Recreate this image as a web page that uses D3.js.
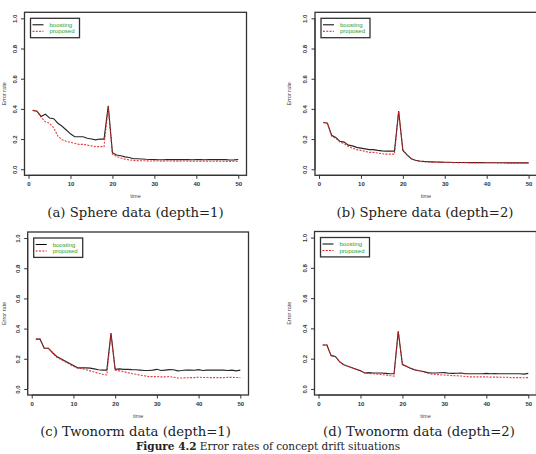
<!DOCTYPE html>
<html><head><meta charset="utf-8">
<script src="https://cdn.jsdelivr.net/npm/d3@7"></script>
<style>body{margin:0;background:#fff}svg{display:block}</style>
</head><body>
<script>
// ---------- data ----------
const time = d3.range(1, 51);
const yTicks = [0.0, 0.2, 0.4, 0.6, 0.8, 1.0];
const xTicks = [0, 10, 20, 30, 40, 50];
const seriesNames = ["boosting", "proposed"];
const captions = ["(a) Sphere data (depth=1)", "(b) Sphere data (depth=2)", "(c) Twonorm data (depth=1)", "(d) Twonorm data (depth=2)"];
const figureLabel = "Figure 4.2";
const figureText = " Error rates of concept drift situations";

const sphere1Boosting = [0.39,0.385,0.35,0.365,0.34,0.335,0.305,0.285,0.26,0.235,0.215,0.215,0.215,0.205,0.20,0.195,0.20,0.20,0.42,0.11,0.095,0.09,0.082,0.078,0.07,0.07,0.068,0.066,0.065,0.064,0.063,0.063,0.064,0.064,0.065,0.064,0.064,0.064,0.063,0.064,0.064,0.063,0.064,0.064,0.064,0.065,0.064,0.061,0.062,0.065];
const sphere1Proposed = [0.39,0.385,0.345,0.315,0.305,0.275,0.22,0.195,0.185,0.178,0.172,0.165,0.165,0.16,0.155,0.15,0.15,0.15,0.41,0.10,0.085,0.075,0.067,0.062,0.058,0.057,0.056,0.056,0.055,0.055,0.055,0.054,0.055,0.055,0.054,0.054,0.055,0.054,0.054,0.053,0.054,0.054,0.053,0.053,0.054,0.053,0.052,0.052,0.053,0.052];
const sphere2Boosting = [0.31,0.305,0.225,0.21,0.185,0.18,0.16,0.155,0.145,0.14,0.135,0.13,0.13,0.125,0.122,0.12,0.12,0.12,0.385,0.125,0.095,0.07,0.06,0.055,0.052,0.05,0.049,0.048,0.047,0.046,0.046,0.045,0.045,0.045,0.045,0.044,0.044,0.044,0.044,0.043,0.043,0.043,0.043,0.043,0.042,0.042,0.042,0.042,0.042,0.042];
const sphere2Proposed = [0.31,0.305,0.22,0.205,0.18,0.17,0.15,0.14,0.13,0.125,0.118,0.112,0.112,0.108,0.103,0.10,0.10,0.10,0.38,0.13,0.095,0.07,0.058,0.052,0.05,0.048,0.047,0.046,0.046,0.045,0.045,0.045,0.044,0.044,0.044,0.044,0.043,0.043,0.043,0.043,0.043,0.043,0.042,0.042,0.042,0.042,0.042,0.042,0.042,0.042];
const twonorm1Boosting = [0.33,0.33,0.27,0.27,0.24,0.215,0.20,0.185,0.17,0.155,0.14,0.14,0.14,0.138,0.133,0.127,0.125,0.125,0.37,0.13,0.133,0.13,0.13,0.128,0.127,0.125,0.122,0.122,0.125,0.13,0.122,0.125,0.128,0.127,0.12,0.122,0.126,0.125,0.124,0.128,0.122,0.125,0.125,0.125,0.125,0.125,0.122,0.125,0.12,0.125];
const twonorm1Proposed = [0.33,0.33,0.27,0.27,0.24,0.21,0.195,0.18,0.165,0.15,0.138,0.135,0.128,0.12,0.112,0.105,0.097,0.093,0.365,0.125,0.12,0.115,0.108,0.102,0.097,0.092,0.087,0.082,0.082,0.082,0.08,0.08,0.082,0.078,0.073,0.073,0.074,0.075,0.075,0.078,0.076,0.076,0.075,0.075,0.075,0.075,0.077,0.077,0.076,0.075];
const twonorm2Boosting = [0.29,0.29,0.22,0.215,0.18,0.16,0.15,0.14,0.13,0.12,0.105,0.108,0.105,0.105,0.105,0.103,0.10,0.10,0.38,0.16,0.148,0.135,0.125,0.12,0.115,0.108,0.105,0.105,0.107,0.108,0.104,0.103,0.104,0.105,0.10,0.10,0.10,0.10,0.10,0.103,0.10,0.102,0.10,0.10,0.10,0.10,0.10,0.10,0.098,0.103];
const twonorm2Proposed = [0.29,0.29,0.22,0.215,0.18,0.16,0.15,0.14,0.13,0.12,0.105,0.103,0.10,0.098,0.095,0.092,0.088,0.085,0.38,0.165,0.15,0.138,0.128,0.12,0.113,0.105,0.098,0.095,0.093,0.092,0.09,0.088,0.087,0.085,0.082,0.08,0.08,0.08,0.08,0.08,0.078,0.078,0.078,0.077,0.077,0.075,0.075,0.075,0.074,0.075];

const panelSeries = [
  [sphere1Boosting, sphere1Proposed],
  [sphere2Boosting, sphere2Proposed],
  [twonorm1Boosting, twonorm1Proposed],
  [twonorm2Boosting, twonorm2Proposed]
];

// ---------- layout ----------
const W = 536, H = 454;
const boxes = [
  {l: 24.5, r: 246.5, t: 12.3, b: 175.3, cx: 135.5, cy: 217},
  {l: 315,  r: 536.8, t: 12.3, b: 175.3, cx: 425,   cy: 217},
  {l: 27.7, r: 248.5, t: 232,  b: 395,   cx: 135.5, cy: 436},
  {l: 314.5,r: 536.5, t: 231.5,b: 395,   cx: 419,   cy: 436}
];
const colors = ["#000000", "#e41a1c"];
const dashes = [null, "2,1.3"];
const sans = "'Liberation Sans', Arial, sans-serif";
const serif = "'DejaVu Serif', 'Liberation Serif', serif";

const svg = d3.select("body").append("svg").attr("width", W).attr("height", H);
svg.append("rect").attr("width", W).attr("height", H).attr("fill", "#fff");

boxes.forEach((bx, i) => {
  const g = svg.append("g");
  const xr = 49 * 0.04;
  const x = d3.scaleLinear().domain([1 - xr, 50 + xr]).range([bx.l, bx.r]);
  const y = d3.scaleLinear().domain([-0.04, 1.04]).range([bx.b, bx.t]);

  // lines
  const line = d3.line().x((d, k) => x(time[k])).y(d => y(d));
  panelSeries[i].forEach((vals, s) => {
    g.append("path").datum(vals).attr("d", line)
      .attr("fill", "none").attr("stroke", colors[s]).attr("stroke-width", 1.1)
      .attr("stroke-dasharray", dashes[s]).attr("stroke-opacity", 0.85);
  });

  // box
  g.append("rect").attr("x", bx.l).attr("y", bx.t).attr("width", bx.r - bx.l).attr("height", bx.b - bx.t)
    .attr("fill", "none").attr("stroke", "#333").attr("stroke-width", 1.3);

  // axes
  const xa = g.append("g").attr("transform", `translate(0,${bx.b})`)
    .call(d3.axisBottom(x).tickValues(xTicks).tickSize(3.5).tickPadding(3).tickFormat(d3.format("d")));
  xa.select(".domain").attr("d", `M${x(0)},0H${x(50)}`).attr("stroke", "#333");
  xa.selectAll("line").attr("stroke", "#333");
  xa.selectAll("text").attr("font-family", sans).attr("font-size", 6).attr("font-weight", "bold").attr("fill", "#333");

  const ya = g.append("g").attr("transform", `translate(${bx.l},0)`)
    .call(d3.axisLeft(y).tickValues(yTicks).tickSize(3.5).tickPadding(3).tickFormat(d3.format(".1f")));
  ya.select(".domain").attr("d", `M0,${y(0)}V${y(1)}`).attr("stroke", "#333");
  ya.selectAll("line").attr("stroke", "#333");
  ya.selectAll("text").attr("font-family", sans).attr("font-size", 6).attr("font-weight", "bold").attr("fill", "#333")
    .attr("text-anchor", "middle").attr("dy", null).attr("x", null)
    .attr("transform", "translate(-10,0) rotate(-90)").attr("dominant-baseline", "central");

  // axis titles
  g.append("text").attr("x", (bx.l + bx.r) / 2).attr("y", bx.b + 23).attr("text-anchor", "middle")
    .attr("font-family", sans).attr("font-size", 5.5).attr("fill", "#444").text("time");
  const ytx = Math.max(bx.l - 26, 3.5);
  g.append("text").attr("transform", `translate(${ytx},${(bx.t + bx.b) / 2}) rotate(-90)`)
    .attr("text-anchor", "middle").attr("dominant-baseline", "central")
    .attr("font-family", sans).attr("font-size", 5.5).attr("fill", "#444").text("Error rate");

  // legend
  const lx = bx.l + 6, ly = bx.t + 6, lw = 49, lh = 19.4;
  const lg = g.append("g");
  lg.append("rect").attr("x", lx).attr("y", ly).attr("width", lw).attr("height", lh)
    .attr("fill", "#fff").attr("stroke", "#333").attr("stroke-width", 1.3);
  seriesNames.forEach((nm, s) => {
    const yy = ly + 6.5 + s * 6.5;
    lg.append("line").attr("x1", lx + 2).attr("x2", lx + 13).attr("y1", yy).attr("y2", yy)
      .attr("stroke", colors[s]).attr("stroke-width", 1).attr("stroke-dasharray", dashes[s]);
    lg.append("text").attr("x", lx + 19).attr("y", yy).attr("dominant-baseline", "central")
      .attr("font-family", sans).attr("font-size", 6).attr("fill", "#2ca02c").text(nm);
  });

  // caption
  svg.append("text").attr("x", bx.cx).attr("y", bx.cy).attr("text-anchor", "middle")
    .attr("font-family", serif).attr("font-size", 13.2).attr("fill", "#222").text(captions[i]);
});

const fc = svg.append("text").attr("x", 268).attr("y", 450).attr("text-anchor", "middle")
  .attr("font-family", serif).attr("font-size", 10.5).attr("fill", "#222");
fc.append("tspan").attr("font-weight", "bold").text(figureLabel);
fc.append("tspan").text(figureText);
</script>
</body></html>
